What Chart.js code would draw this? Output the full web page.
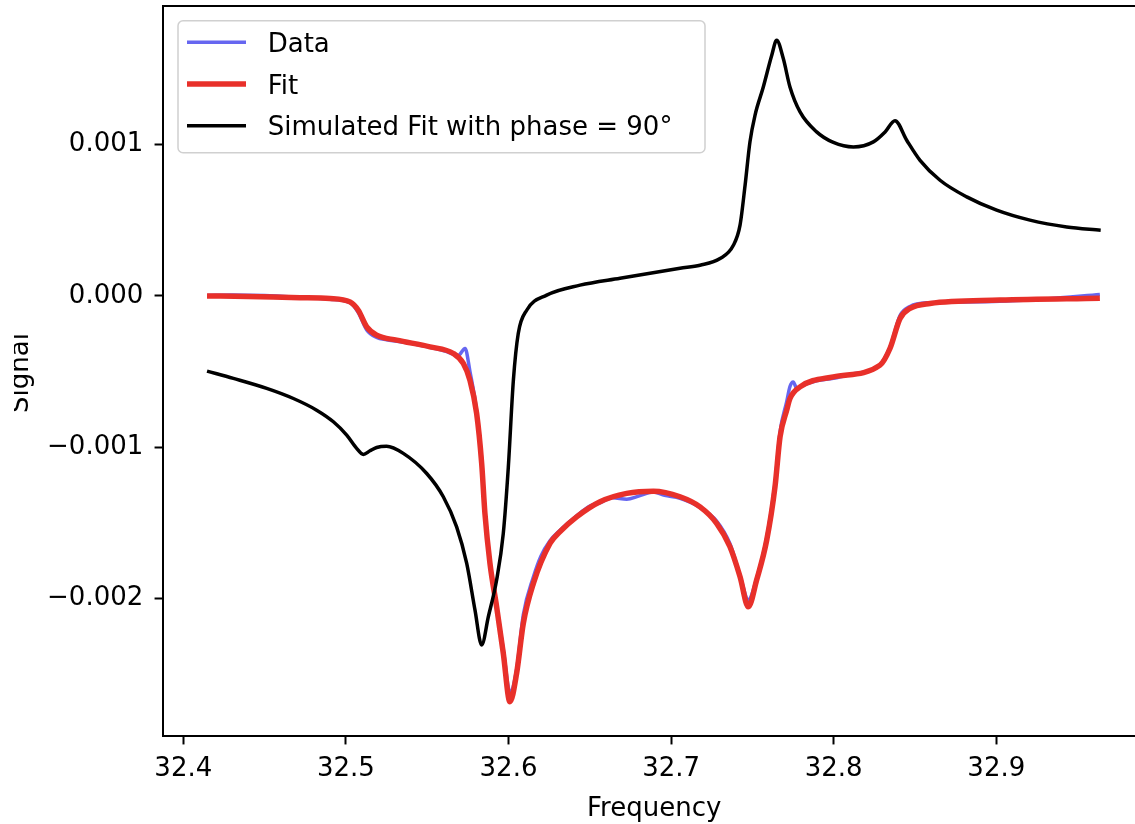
<!DOCTYPE html>
<html>
<head>
<meta charset="utf-8">
<script src="https://cdn.jsdelivr.net/npm/chart.js@4.4.1/dist/chart.umd.min.js"></script>
<style>
html,body{margin:0;padding:0;overflow:hidden;background:#fff;width:1135px;height:824px}
canvas{display:block}
</style>
</head>
<body>
<canvas id="c" width="1135" height="824"></canvas>
<script>
// ---- Data ----
const xTitle = 'Frequency';
const yTitle = 'Signal';
const seriesLabels = ['Data', 'Fit', 'Simulated Fit with phase = 90°'];
const xTicks = [32.4, 32.5, 32.6, 32.7, 32.8, 32.9];
const yTicks = [-0.002, -0.001, 0.0, 0.001];

const dataFreq = [32.4146, 32.4300, 32.4500, 32.4718, 32.4902, 32.5025, 32.5076, 32.5128, 32.5189, 32.5250,
  32.5312, 32.5420, 32.5517, 32.5620, 32.5690, 32.5733, 32.5763, 32.5804, 32.5835, 32.5855,
  32.5886, 32.5927, 32.5968, 32.6009, 32.6050, 32.6091, 32.6153, 32.6200, 32.6255, 32.6317,
  32.6419, 32.6500, 32.6563, 32.6640, 32.6727, 32.6800, 32.6891, 32.6960, 32.7055, 32.7178,
  32.7280, 32.7362, 32.7424, 32.7475, 32.7526, 32.7588, 32.7639, 32.7670, 32.7711, 32.7731,
  32.7751, 32.7773, 32.7793, 32.7900, 32.7998, 32.8100, 32.8285, 32.8346, 32.8408, 32.8469,
  32.8592, 32.8800, 32.9022, 32.9300, 32.9637];
const dataVals = [0.000003, 0.000006, 0.000002, -0.000010, -0.000022, -0.000045, -0.000110, -0.000225, -0.000275, -0.000290,
  -0.000300, -0.000318, -0.000340, -0.000368, -0.000395, -0.000348, -0.000500, -0.000760, -0.001080, -0.001420,
  -0.001760, -0.002050, -0.002340, -0.002620, -0.002470, -0.002110, -0.001860, -0.001720, -0.001620, -0.001550,
  -0.001455, -0.001390, -0.001370, -0.001335, -0.001345, -0.001325, -0.001298, -0.001320, -0.001340, -0.001400,
  -0.001490, -0.001640, -0.001850, -0.002010, -0.001870, -0.001600, -0.001240, -0.000900, -0.000700, -0.000600,
  -0.000570, -0.000612, -0.000600, -0.000560, -0.000545, -0.000520, -0.000455, -0.000340, -0.000130, -0.000070,
  -0.000045, -0.000040, -0.000035, -0.000020, 0.000010];

const fitFreq = [32.4146, 32.4400, 32.4718, 32.4902, 32.5025, 32.5076, 32.5128, 32.5189, 32.5312, 32.5517,
  32.5661, 32.5722, 32.5763, 32.5804, 32.5835, 32.5855, 32.5886, 32.5927, 32.5968, 32.6009,
  32.6050, 32.6091, 32.6153, 32.6255, 32.6317, 32.6419, 32.6563, 32.6727, 32.6891, 32.7055,
  32.7178, 32.7280, 32.7362, 32.7424, 32.7475, 32.7526, 32.7588, 32.7639, 32.7670, 32.7711,
  32.7731, 32.7793, 32.7998, 32.8285, 32.8346, 32.8408, 32.8469, 32.8592, 32.9022, 32.9637];
const fitVals = [0.000000, -0.000004, -0.000012, -0.000017, -0.000040, -0.000095, -0.000205, -0.000260, -0.000293, -0.000337,
  -0.000381, -0.000447, -0.000558, -0.000778, -0.001108, -0.001439, -0.001770, -0.002057, -0.002365, -0.002685,
  -0.002497, -0.002167, -0.001902, -0.001638, -0.001560, -0.001462, -0.001362, -0.001307, -0.001292, -0.001329,
  -0.001396, -0.001505, -0.001660, -0.001858, -0.002057, -0.001880, -0.001616, -0.001263, -0.000933, -0.000756,
  -0.000679, -0.000602, -0.000536, -0.000458, -0.000348, -0.000149, -0.000083, -0.000050, -0.000028, -0.000015];

const simFreq = [32.4146, 32.4308, 32.4513, 32.4677, 32.4820, 32.4923, 32.5005, 32.5066, 32.5107, 32.5148,
  32.5189, 32.5250, 32.5353, 32.5497, 32.5599, 32.5681, 32.5743, 32.5794, 32.5835, 32.5876,
  32.5927, 32.5968, 32.5999, 32.6030, 32.6060, 32.6112, 32.6235, 32.6440, 32.6686, 32.7055,
  32.7178, 32.7301, 32.7383, 32.7424, 32.7455, 32.7485, 32.7516, 32.7567, 32.7619, 32.7649,
  32.7690, 32.7731, 32.7793, 32.7895, 32.7998, 32.8121, 32.8244, 32.8316, 32.8377, 32.8449,
  32.8531, 32.8654, 32.8818, 32.9002, 32.9207, 32.9433, 32.9642];
const simVals = [-0.000498, -0.000546, -0.000612, -0.000679, -0.000756, -0.000833, -0.000921, -0.001009, -0.001049, -0.001025,
  -0.001003, -0.000995, -0.001042, -0.001175, -0.001329, -0.001528, -0.001770, -0.002079, -0.002310, -0.002123,
  -0.001880, -0.001571, -0.001131, -0.000558, -0.000249, -0.000095, 0.000005, 0.000071, 0.000117, 0.000183,
  0.000203, 0.000247, 0.000335, 0.000468, 0.000732, 0.001019, 0.001195, 0.001382, 0.001592, 0.001691,
  0.001570, 0.001382, 0.001217, 0.001085, 0.001015, 0.000985, 0.001019, 0.001085, 0.001159, 0.001030,
  0.000897, 0.000765, 0.000655, 0.000567, 0.000501, 0.000456, 0.000435];

// ---- Styling ----
const FONT = "'DejaVu Sans', 'Liberation Sans', sans-serif";
const FS = 26;
const X_FULL_MAX = 32.9915; // right end of the (cropped) axes
const pts = (xs, ys) => xs.map((x, i) => ({x: x, y: ys[i]}));
const fmtY = v => {
  const a = Math.abs(v) < 1e-12 ? 0 : v;
  return (a < 0 ? '\u2212' : '') + Math.abs(a).toFixed(3);
};

const decor = {
  id: 'decor',
  afterDraw(chart) {
    const {ctx, chartArea: a} = chart;
    const xs = chart.scales.x;
    const ys = chart.scales.y;
    ctx.save();
    ctx.strokeStyle = '#000';
    ctx.lineWidth = 2;
    ctx.lineCap = 'butt';
    // spines: top and bottom run on to the (cropped) right edge
    const yTop = Math.round(a.top - 1) + 1;
    const yBot = Math.round(a.bottom - 1) + 1;
    const xLeft = Math.round(ys.right - 1) + 1;
    ctx.beginPath();
    ctx.moveTo(xLeft - 1, yTop);
    ctx.lineTo(chart.width, yTop);
    ctx.moveTo(xLeft - 1, yBot);
    ctx.lineTo(chart.width, yBot);
    ctx.stroke();

    ctx.fillStyle = '#000';
    ctx.font = FS + 'px ' + FONT;
    ctx.textAlign = 'center';
    ctx.textBaseline = 'alphabetic';
    ctx.fillText(xTitle, (a.left + xs.getPixelForValue(X_FULL_MAX)) / 2, 815.5);

    ctx.save();
    ctx.beginPath();
    ctx.rect(14, 0, 200, 824);
    ctx.clip();
    ctx.translate(27.6, 373);
    ctx.rotate(-Math.PI / 2);
    ctx.fillText(yTitle, 0, 0);
    ctx.restore();

    // legend
    const lx = 178, ly = 20.7, lw = 527, lh = 132;
    ctx.beginPath();
    if (ctx.roundRect) ctx.roundRect(lx, ly, lw, lh, 5); else ctx.rect(lx, ly, lw, lh);
    ctx.fillStyle = 'rgba(255,255,255,0.8)';
    ctx.fill();
    ctx.strokeStyle = '#d0d0d0';
    ctx.lineWidth = 1.5;
    ctx.stroke();
    chart.data.datasets.forEach((ds, i) => {
      const y = 42.3 + i * 41.7;
      ctx.strokeStyle = ds.borderColor;
      ctx.lineWidth = ds.borderWidth;
      ctx.beginPath();
      ctx.moveTo(187, y);
      ctx.lineTo(246, y);
      ctx.stroke();
      ctx.fillStyle = '#000';
      ctx.textAlign = 'left';
      ctx.fillText(ds.label, 267.7, y + 9.5);
    });
    ctx.restore();
  }
};

new Chart(document.getElementById('c'), {
  type: 'scatter',
  data: {
    datasets: [
      {label: seriesLabels[0], data: pts(dataFreq, dataVals), showLine: true, borderColor: 'rgba(0,0,230,0.6)',
        borderWidth: 3.5, pointRadius: 0, cubicInterpolationMode: 'monotone', order: 3},
      {label: seriesLabels[1], data: pts(fitFreq, fitVals), showLine: true, borderColor: '#e8302a',
        borderWidth: 5.5, pointRadius: 0, cubicInterpolationMode: 'monotone', order: 2},
      {label: seriesLabels[2], data: pts(simFreq, simVals), showLine: true, borderColor: '#000000',
        borderWidth: 3.5, pointRadius: 0, cubicInterpolationMode: 'monotone', order: 1}
    ]
  },
  options: {
    responsive: false,
    animation: false,
    devicePixelRatio: 1,
    events: [],
    layout: {padding: {top: 5.7, right: 20, left: 0, bottom: 0}},
    plugins: {legend: {display: false}, tooltip: {enabled: false}, title: {display: false}},
    scales: {
      x: {
        type: 'linear', min: 32.3877, max: 32.9730,
        afterFit: s => { s.height = 824 - 735.7; s.paddingLeft = 0; s.paddingRight = 0; },
        afterBuildTicks: s => { s.ticks = xTicks.map(v => ({value: v})); },
        ticks: {color: '#000', font: {family: FONT, size: FS}, padding: 9, maxRotation: 0, autoSkip: false,
          callback: v => Number(v).toFixed(1)},
        grid: {display: true, drawOnChartArea: false, drawTicks: true, tickLength: 8.75, tickWidth: 2, tickColor: '#000'},
        border: {display: false}
      },
      y: {
        type: 'linear', min: -0.00291, max: 0.00192,
        afterFit: s => { s.width = 163.3; s.paddingTop = 0; s.paddingBottom = 0; },
        afterBuildTicks: s => { s.ticks = yTicks.map(v => ({value: v})); },
        ticks: {color: '#000', font: {family: FONT, size: FS}, padding: 11.25, autoSkip: false,
          callback: v => fmtY(v)},
        grid: {display: true, drawOnChartArea: false, drawTicks: true, tickLength: 8.75, tickWidth: 2, tickColor: '#000'},
        border: {display: true, color: '#000', width: 2}
      }
    }
  },
  plugins: [decor]
});
</script>
</body>
</html>
